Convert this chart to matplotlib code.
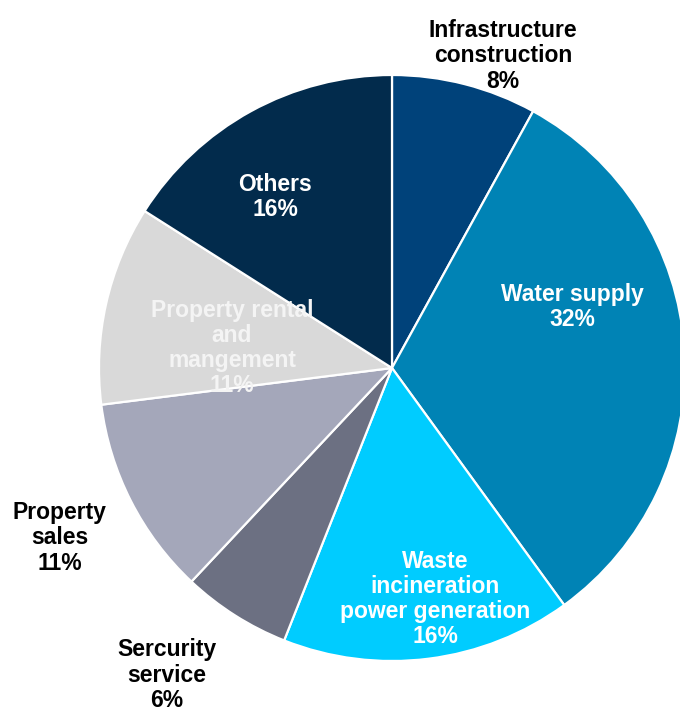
import matplotlib
matplotlib.use("Agg")
import matplotlib.pyplot as plt

# segment data, clockwise from 12 o'clock
segments = ["Infrastructure\nconstruction", "Water supply",
            "Waste\nincineration\npower generation", "Sercurity\nservice",
            "Property\nsales", "Property rental\nand\nmangement", "Others"]
shares = [8, 32, 16, 6, 11, 11, 16]
colors = ["#00427A", "#0083B5", "#00CCFF", "#6C7082", "#A4A7BA", "#D9D9D9", "#022B4C"]

# label placement (pixel coords, y from top) and text colour
label_xy = [(503, 56), (572, 307), (435, 599), (167, 675), (60, 538), (232, 348), (275, 197)]
label_color = ["black", "white", "white", "black", "black", "#F4F4F4", "white"]

W, H = 680, 713
fig = plt.figure(figsize=(W / 100, H / 100), dpi=100)
ax = fig.add_axes([0, 0, 1, 1])

ax.pie(shares, colors=colors, startangle=90, counterclock=False,
       center=(392, H - 368), radius=293, frame=True,
       wedgeprops=dict(edgecolor='white', linewidth=1.6))
ax.set_xlim(0, W)
ax.set_ylim(0, H)
ax.set_aspect('equal')
ax.axis('off')

for name, val, (x, y), c in zip(segments, shares, label_xy, label_color):
    ax.text(x, H - y, f"{name}\n{val}%", ha='center', va='center', color=c,
            fontsize=16.5, fontweight='bold', family='Liberation Sans',
            linespacing=1.12)

fig.savefig("out.png", dpi=100)
